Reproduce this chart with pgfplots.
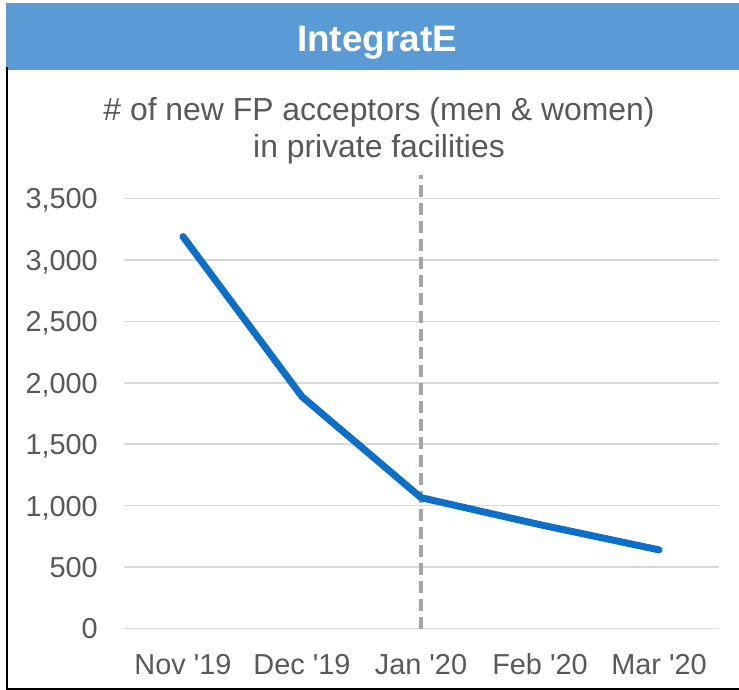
\documentclass[border=0pt]{standalone}
\usepackage{fontspec}
\setmainfont{Liberation Sans}
\usepackage{pgfplots}
\pgfplotsset{compat=1.18}
\definecolor{headblue}{HTML}{5B9BD5}
\definecolor{linecol}{HTML}{0E6FC9}
\definecolor{gridgray}{HTML}{D9D9D9}
\definecolor{dashgray}{HTML}{A6A6A6}
\definecolor{txtgray}{HTML}{595959}
\begin{document}
\begin{tikzpicture}
\useasboundingbox (0,0) rectangle (739bp,-690bp);
\fill[white] (0,0) rectangle (739bp,-690bp);
\fill[headblue] (5.5bp,-3bp) rectangle (739bp,-70bp);
\node[anchor=base, text=white, inner sep=0pt, font=\fontsize{37}{44}\selectfont\bfseries] at (377bp,-51.7bp) {IntegratE};
\draw[line width=2bp, black] (6.5bp,-67bp) -- (6.5bp,-689bp) -- (739bp,-689bp);
\node[anchor=base, text=txtgray, inner sep=0pt, font=\fontsize{32}{38}\selectfont] at (379bp,-120bp) {\# of new FP acceptors (men \& women)};
\node[anchor=base, text=txtgray, inner sep=0pt, font=\fontsize{32}{38}\selectfont] at (379bp,-157.5bp) {in private facilities};
\begin{axis}[
  at={(123.5bp,-628.5bp)}, anchor=south west,
  scale only axis, width=595bp, height=430bp,
  xmin=-0.5, xmax=4.5, ymin=0, ymax=3500,
  axis line style={draw=none}, major tick style={draw=none},
  ymajorgrids, grid style={line width=1.6bp, color=gridgray},
  ytick={0,500,1000,1500,2000,2500,3000,3500},
  /pgf/number format/fixed, /pgf/number format/1000 sep={,},
  /pgf/number format/assume math mode=true,
  yticklabel style={anchor=base east, inner sep=0pt, xshift=-25.5bp, yshift=-10.4bp},
  xtick={0,1,2,3,4},
  xticklabels={Nov \textquotesingle19, Dec \textquotesingle19, Jan \textquotesingle20, Feb \textquotesingle20, Mar \textquotesingle20},
  xticklabel style={anchor=base, inner sep=0pt, yshift=-45.5bp},
  tick label style={font=\fontsize{29}{34}\selectfont, text=txtgray},
  clip=false,
]
\addplot[dashgray, line width=4bp, dash pattern=on 12bp off 6bp] coordinates {(2,0) (2,3690)};
\addplot[linecol, line width=7bp, line cap=round, line join=round] coordinates {(0,3190) (1,1887) (2,1065) (3,845) (4,640)};
\end{axis}
\end{tikzpicture}
\end{document}
